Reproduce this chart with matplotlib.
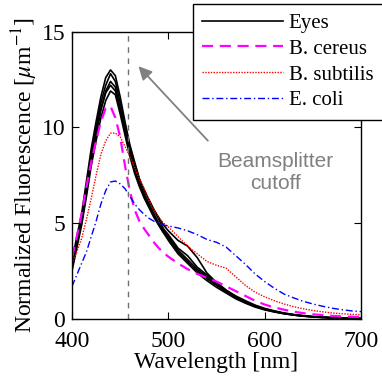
import matplotlib
matplotlib.use("Agg")
import matplotlib.pyplot as plt

plt.rcParams['font.family'] = ['Liberation Serif', 'DejaVu Serif']
plt.rcParams['mathtext.fontset'] = 'stix'

wl = [400, 405, 410, 415, 420, 425, 430, 435, 440, 445, 450, 455, 460, 465, 470, 475, 480, 485, 490, 495, 500,
      510, 520, 530, 540, 550, 560, 570, 580, 590, 600, 610, 620, 630, 640, 650, 660, 670, 680, 690, 700]

eye1 = [2.7, 4.0, 5.2, 6.8, 8.4, 9.8, 11.0, 11.9, 12.4, 12.1, 11.0, 9.9, 8.8, 7.9, 7.1, 6.5, 6.0, 5.5, 5.0, 4.6, 4.3,
        3.6, 3.1, 2.6, 2.2, 1.8, 1.45, 1.15, 0.9, 0.7, 0.52, 0.4, 0.3, 0.22, 0.16, 0.12, 0.09, 0.06, 0.04, 0.03, 0.02]
eye2 = [3.0, 4.3, 5.5, 7.2, 8.9, 10.3, 11.6, 12.6, 13.0, 12.7, 11.6, 10.3, 9.1, 8.2, 7.3, 6.7, 6.2, 5.7, 5.2, 4.7, 4.4,
        3.7, 3.3, 2.7, 2.3, 1.9, 1.5, 1.2, 0.95, 0.72, 0.55, 0.42, 0.31, 0.23, 0.17, 0.12, 0.09, 0.07, 0.05, 0.03, 0.02]
eye3 = [2.5, 3.7, 4.9, 6.4, 8.0, 9.3, 10.5, 11.4, 11.9, 11.7, 10.7, 9.6, 8.5, 7.6, 6.9, 6.3, 5.8, 5.3, 4.9, 4.5, 4.1,
        3.4, 2.9, 2.4, 2.0, 1.65, 1.35, 1.05, 0.82, 0.62, 0.47, 0.36, 0.27, 0.2, 0.14, 0.1, 0.07, 0.05, 0.04, 0.02, 0.01]
eye4 = [2.8, 4.1, 5.3, 6.9, 8.6, 10.0, 11.3, 12.2, 12.8, 12.4, 11.3, 10.1, 9.0, 8.1, 7.3, 6.7, 6.2, 5.7, 5.3, 4.9, 4.6,
        4.1, 3.8, 3.2, 2.4, 1.9, 1.5, 1.15, 0.9, 0.68, 0.5, 0.38, 0.28, 0.21, 0.15, 0.11, 0.08, 0.06, 0.04, 0.03, 0.02]
eye5 = [2.9, 3.9, 5.0, 6.6, 8.2, 9.6, 10.9, 11.8, 12.2, 11.9, 10.9, 9.8, 8.7, 7.8, 7.0, 6.4, 5.9, 5.4, 4.9, 4.5, 4.2,
        3.5, 3.0, 2.5, 2.1, 1.75, 1.4, 1.1, 0.85, 0.65, 0.5, 0.38, 0.28, 0.2, 0.15, 0.11, 0.08, 0.06, 0.04, 0.03, 0.02]
eyes = [eye1, eye2, eye3, eye4, eye5]

b_cereus = [3.2, 4.3, 5.5, 6.9, 8.2, 9.3, 10.3, 11.0, 11.1, 10.5, 9.5, 8.0, 6.7, 5.7, 5.1, 4.7, 4.35, 4.0, 3.7, 3.45, 3.25,
            2.9, 2.6, 2.35, 2.15, 1.95, 1.7, 1.45, 1.2, 0.95, 0.75, 0.6, 0.48, 0.38, 0.3, 0.24, 0.2, 0.16, 0.13, 0.11, 0.1]
b_subtilis = [2.9, 3.5, 4.2, 5.2, 6.3, 7.5, 8.6, 9.3, 9.7, 9.7, 9.5, 9.0, 8.5, 7.9, 7.3, 6.8, 6.2, 5.7, 5.3, 5.0, 4.8,
              4.3, 3.8, 3.4, 3.0, 2.8, 2.65, 2.2, 1.75, 1.4, 1.15, 0.95, 0.78, 0.64, 0.53, 0.44, 0.37, 0.31, 0.27, 0.24, 0.22]
e_coli = [1.7, 2.3, 2.9, 3.5, 4.3, 5.1, 6.0, 6.7, 7.15, 7.2, 7.05, 6.8, 6.4, 6.0, 5.7, 5.45, 5.25, 5.1, 5.0, 4.9, 4.85,
          4.75, 4.6, 4.4, 4.15, 4.0, 3.75, 3.3, 2.85, 2.35, 1.95, 1.6, 1.3, 1.1, 0.92, 0.78, 0.66, 0.56, 0.48, 0.42, 0.38]

labels = ['Eyes', 'B. cereus', 'B. subtilis', 'E. coli']
cutoff = 458

fig = plt.figure(figsize=(3.82, 3.81), dpi=100)
ax = fig.add_axes([0.1885, 0.163, 0.7565, 0.754])

for i, e in enumerate(eyes):
    ax.plot(wl, e, color='black', lw=1.2, label=labels[0] if i == 0 else None)
ax.plot(wl, b_cereus, color='magenta', lw=1.6, ls=(0, (5, 3)), label=labels[1])
ax.plot(wl, b_subtilis, color='red', lw=1.0, ls=(0, (1, 1)), label=labels[2])
ax.plot(wl, e_coli, color='blue', lw=1.0, ls=(0, (5, 2, 1, 2)), label=labels[3])

ax.axvline(cutoff, color='#707070', lw=1.0, ls=(0, (4, 4)))

ax.annotate('', xy=(467, 13.3), xytext=(543, 9.2),
            arrowprops=dict(arrowstyle='-|>,head_length=0.8,head_width=0.4', color='#808080', lw=1.3))
ax.text(611, 7.65, 'Beamsplitter\ncutoff', color='#808080', fontsize=15, family='Liberation Sans',
        ha='center', va='center', linespacing=1.25)

ax.set_xlim(400, 700)
ax.set_ylim(0, 15)
ax.set_xticks([400, 500, 600, 700])
ax.set_yticks([0, 5, 10, 15])
ax.tick_params(direction='in', length=5, width=0.8, labelsize=17, top=True, right=True)
ax.tick_params(axis='x', pad=9)
ax.tick_params(axis='y', pad=5)
for s in ax.spines.values():
    s.set_linewidth(1.0)
ax.set_xlabel('Wavelength [nm]', fontsize=17, labelpad=0)
ax.set_ylabel(r'Normalized Fluorescence [$\mu$m$^{-1}$]', fontsize=17, labelpad=1)

leg = fig.legend(loc='upper left', bbox_to_anchor=(193 / 382, 1 - 4 / 381), fontsize=15,
                 handlelength=3.85, handletextpad=0.3, borderpad=0.45, labelspacing=0.3,
                 fancybox=False, framealpha=1, edgecolor='black', borderaxespad=0)
leg.get_frame().set_linewidth(1.0)

fig.savefig('out.png', dpi=100)
